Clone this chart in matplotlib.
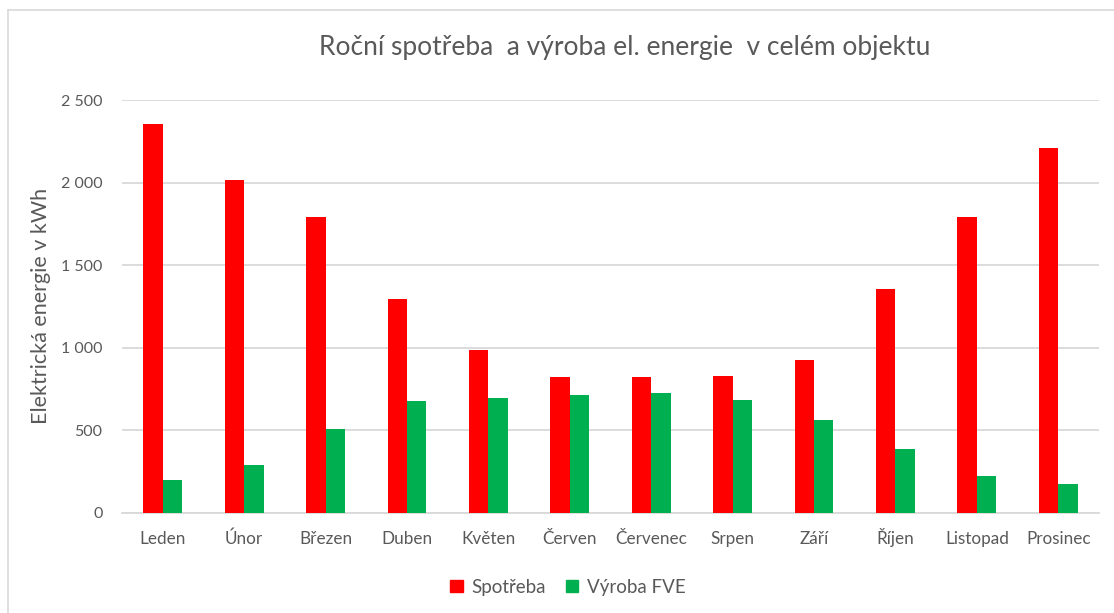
import matplotlib
matplotlib.use("Agg")
import matplotlib.pyplot as plt
from matplotlib.lines import Line2D
from matplotlib.patches import Patch
from matplotlib.ticker import FuncFormatter
import numpy as np

months = ["Leden", "Únor", "Březen", "Duben", "Květen", "Červen",
          "Červenec", "Srpen", "Září", "Říjen", "Listopad", "Prosinec"]
spotreba = [2353, 2013, 1789, 1294, 984, 820, 820, 828, 927, 1353, 1789, 2207]
vyroba = [198, 287, 509, 675, 695, 713, 723, 685, 560, 386, 220, 172]
yticks = [0, 500, 1000, 1500, 2000, 2500]

title = "Roční spotřeba  a výroba el. energie  v celém objektu"
ylabel = "Elektrická energie v kWh"
series_names = ["Spotřeba", "Výroba FVE"]
colors = ["#FF0000", "#00B050"]

plt.rcParams['font.family'] = ['Lato', 'DejaVu Sans']
W, H = 1114, 613
fig = plt.figure(figsize=(W / 100, H / 100), dpi=100)
ax = fig.add_axes([122 / W, 1 - 512.7 / H, (1099 - 122) / W, (512.7 - 100) / H])

x = np.arange(len(months))
bw = 0.238
ax.bar(x - bw / 2, spotreba, bw, color=colors[0], zorder=3)
ax.bar(x + bw / 2, vyroba, bw, color=colors[1], zorder=3)

ax.set_xlim(-0.5, len(months) - 0.5)
ax.set_ylim(0, 2500)
ax.set_yticks(yticks)
ax.yaxis.set_major_formatter(FuncFormatter(lambda v, p: f"{int(v):,}".replace(",", " ")))
ax.set_xticks(x)
ax.set_xticklabels(months)
ax.tick_params(axis='both', length=0, colors="#595959", labelsize=11.5)
ax.tick_params(axis='x', labelsize=12.3, pad=22.5)
ax.tick_params(axis='y', pad=14)
for lbl in ax.get_xticklabels():
    lbl.set_verticalalignment('baseline')
ax.grid(axis='y', color="#D9D9D9", linewidth=1.3, zorder=0)
for s in ["top", "right", "left"]:
    ax.spines[s].set_visible(False)
ax.spines["bottom"].set_color("#D9D9D9")
ax.spines["bottom"].set_linewidth(1.3)

ax.set_ylabel(ylabel, fontsize=15.5, color="#595959")
ax.yaxis.set_label_coords((51 - 122) / (1099 - 122), 0.5)

fig.text(625 / W, 1 - 47 / H, title, ha="center", va="center", fontsize=19, color="#595959")

handles = [Patch(color=c) for c in colors]
fig.legend(handles, series_names, loc="center", bbox_to_anchor=(568 / W, 1 - 587 / H),
           ncol=2, frameon=False, fontsize=13.5, labelcolor="#595959",
           handlelength=0.65, handleheight=0.65, handletextpad=0.45, columnspacing=1.1)

fig.add_artist(Line2D([7.5 / W, 7.5 / W], [0, 1 - 10 / H], color="#D9D9D9", linewidth=1.2))
fig.add_artist(Line2D([7.5 / W, 1], [1 - 10 / H, 1 - 10 / H], color="#D9D9D9", linewidth=1.2))

fig.savefig("out.png", dpi=100)
